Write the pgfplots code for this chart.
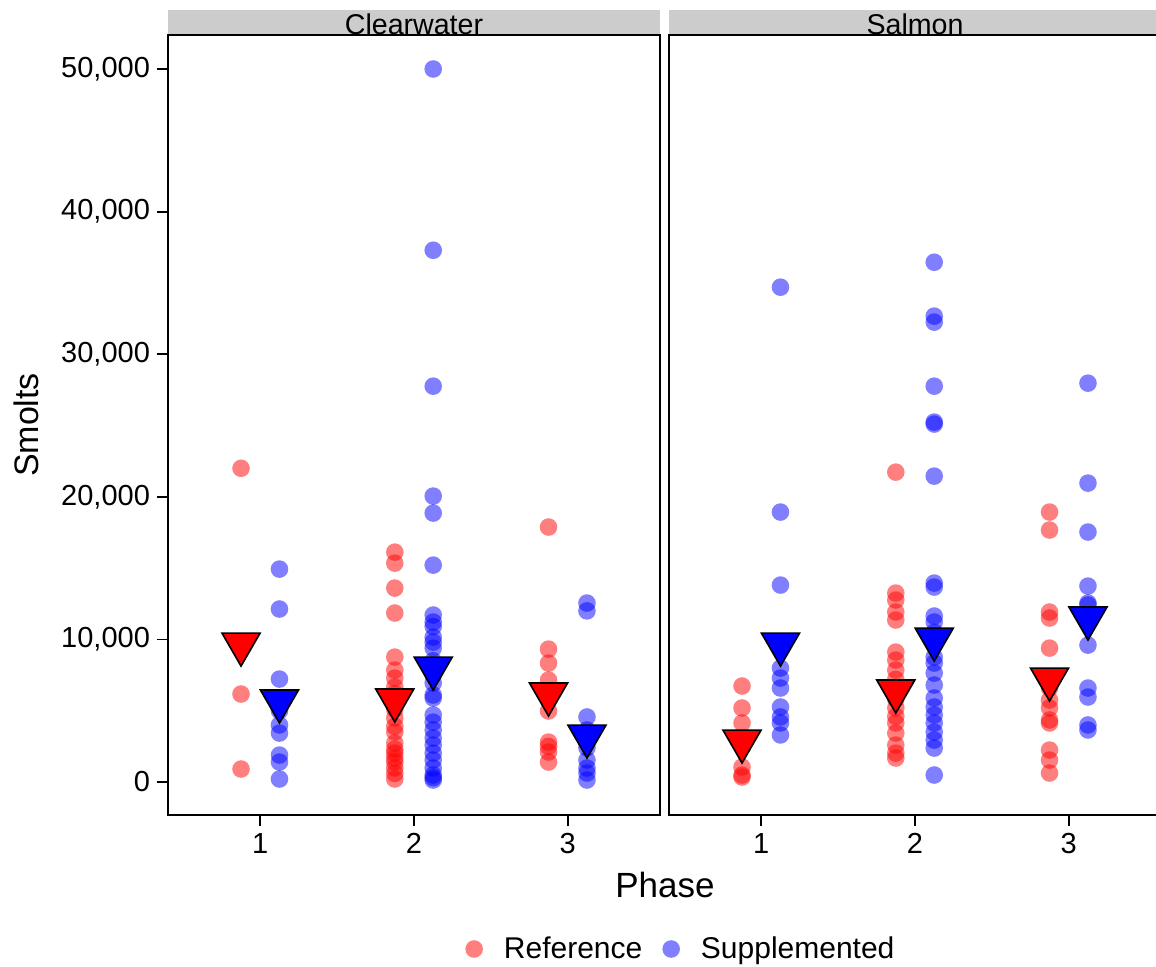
\documentclass[border=0pt]{standalone}
\usepackage{pgfplots}
\pgfplotsset{compat=1.18}
\usetikzlibrary{calc}
\usepackage{fontspec}
\setmainfont{Liberation Sans}
\definecolor{refc}{HTML}{FF0000}
\definecolor{supc}{HTML}{0000FF}
\definecolor{stripc}{HTML}{CCCCCC}
\pgfplotsset{
  panel/.style={scale only axis, width=246pt, height=390pt,
    xmin=0.4, xmax=3.6, ymin=-2314, ymax=52384,
    xtick={1,2,3}, tick align=outside, major tick length=5.5pt,
    tick pos=left,
    axis line style={line width=0.9pt},
    tick style={black, line width=0.9pt},
    ticklabel style={font=\fontsize{14.5}{17}\selectfont},
    /pgf/number format/assume math mode=true,
    anchor=north west},
  refdot/.style={only marks, mark=*, mark size=4.4pt, mark options={draw=refc, draw opacity=0, fill=refc, fill opacity=0.5}},
  supdot/.style={only marks, mark=*, mark size=4.4pt, mark options={draw=supc, draw opacity=0, fill=supc, fill opacity=0.5}},
  refmean/.style={only marks, mark=triangle*, mark size=11pt, mark options={rotate=180, fill=refc, draw=black, line width=0.8pt}},
  supmean/.style={only marks, mark=triangle*, mark size=11pt, mark options={rotate=180, fill=supc, draw=black, line width=0.8pt}},
}
\begin{document}
\begin{tikzpicture}
% ---------------- Clearwater ----------------
\begin{axis}[panel, at={(84pt,-17.5pt)},
  ytick={0,10000,20000,30000,40000,50000},
  scaled y ticks=false,
  yticklabel style={/pgf/number format/.cd, fixed, 1000 sep={,}},
  legend columns=2,
  legend style={draw=none, fill=none, at={(1.0445,-0.1718)}, anchor=center,
    font=\fontsize{15}{18}\selectfont,
    /tikz/every even column/.append style={column sep=8pt},
    /tikz/every odd column/.append style={column sep=8.5pt}},
  legend image code/.code={\draw[#1] plot coordinates {(4.4pt,0pt)};},
]
\addplot[refdot, forget plot] coordinates {
(0.875,22000) (0.875,6170) (0.875,910)
(1.875,16120) (1.875,15350) (1.875,13600) (1.875,11850) (1.875,8760) (1.875,7850)
(1.875,7290) (1.875,6660) (1.875,6200) (1.875,5100) (1.875,4490) (1.875,3900)
(1.875,3500) (1.875,2730) (1.875,2300) (1.875,2030) (1.875,1680) (1.875,1400)
(1.875,980) (1.875,600) (1.875,210)
(2.875,17880) (2.875,9320) (2.875,8340) (2.875,7150) (2.875,4980) (2.875,2800)
(2.875,2500) (2.875,2100) (2.875,1400)
};
\addplot[supdot, forget plot] coordinates {
(1.125,14930) (1.125,12130) (1.125,7220) (1.125,5000) (1.125,4000) (1.125,3430)
(1.125,1890) (1.125,1400) (1.125,210)
(2.125,50000) (2.125,37290) (2.125,27760) (2.125,20050) (2.125,18860) (2.125,15210)
(2.125,11710) (2.125,11220) (2.125,10900) (2.125,10160) (2.125,9810) (2.125,9390)
(2.125,8500) (2.125,7500) (2.125,6940) (2.125,6100) (2.125,5890) (2.125,4700)
(2.125,4200) (2.125,3650) (2.125,3080) (2.125,2590) (2.125,2030) (2.125,1540)
(2.125,980) (2.125,490) (2.125,300) (2.125,140)
(3.125,12550) (3.125,12000) (3.125,4560) (3.125,3650) (3.125,3000) (3.125,2400)
(3.125,1540) (3.125,980) (3.125,630) (3.125,140)
};
\addplot[refmean, forget plot] coordinates {(0.875,9670) (1.875,5750) (2.875,6170)};
\addplot[supmean, forget plot] coordinates {(1.125,5680) (2.125,7990) (3.125,3220)};
\addlegendimage{refdot}
\addlegendentry{Reference}
\addlegendimage{supdot}
\addlegendentry{Supplemented}
\coordinate (LTL) at (rel axis cs:0,1);
\coordinate (LTR) at (rel axis cs:1,1);
\end{axis}
% ---------------- Salmon ----------------
\begin{axis}[panel, at={(334.5pt,-17.5pt)}, ytick=\empty]
\addplot[refdot] coordinates {
(0.875,6730) (0.875,5190) (0.875,4140) (0.875,3000) (0.875,1050) (0.875,490) (0.875,350)
(1.875,21730) (1.875,13250) (1.875,12760) (1.875,11920) (1.875,11360) (1.875,9110)
(1.875,8550) (1.875,7850) (1.875,7200) (1.875,6500) (1.875,5800) (1.875,5200)
(1.875,4600) (1.875,4140) (1.875,3430) (1.875,2590) (1.875,2030) (1.875,1680)
(2.875,18930) (2.875,17670) (2.875,11920) (2.875,11500) (2.875,9390) (2.875,6590)
(2.875,5750) (2.875,5190) (2.875,4350) (2.875,4140) (2.875,2240) (2.875,1540) (2.875,630)
};
\addplot[supdot] coordinates {
(1.125,34700) (1.125,18930) (1.125,13810) (1.125,7990) (1.125,7290) (1.125,6590)
(1.125,5260) (1.125,4560) (1.125,4140) (1.125,3300)
(2.125,36450) (2.125,32670) (2.125,32250) (2.125,27760) (2.125,25240) (2.125,25100)
(2.125,21450) (2.125,13950) (2.125,13670) (2.125,11640) (2.125,11220) (2.125,10500)
(2.125,8760) (2.125,8340) (2.125,7640) (2.125,6800) (2.125,5890) (2.125,5260)
(2.125,4700) (2.125,4140) (2.125,3500) (2.125,2940) (2.125,2380) (2.125,490)
(3.125,27970) (3.125,20960) (3.125,17530) (3.125,13740) (3.125,12550) (3.125,12410)
(3.125,9600) (3.125,6590) (3.125,5960) (3.125,4000) (3.125,3650)
};
\addplot[refmean] coordinates {(0.875,2870) (1.875,6380) (2.875,7220)};
\addplot[supmean] coordinates {(1.125,9670) (2.125,10020) (3.125,11500)};
\coordinate (RTL) at (rel axis cs:0,1);
\coordinate (RTR) at (rel axis cs:1,1);
\end{axis}
% strips
\fill[stripc] (LTL) rectangle ([yshift=12.5pt]LTR);
\fill[stripc] (RTL) rectangle ([yshift=12.5pt]RTR);
\node[anchor=base, font=\fontsize{14.3}{16}\selectfont, inner sep=0pt] at ([yshift=0.4pt]$(LTL)!0.5!(LTR)$) {Clearwater};
\node[anchor=base, font=\fontsize{14.3}{16}\selectfont, inner sep=0pt] at ([yshift=0.4pt]$(RTL)!0.5!(RTR)$) {Salmon};
\draw[line width=0.9pt] (LTL) -- (LTR);
\draw[line width=0.9pt] (RTL) -- (RTR);
% axis titles
\node[rotate=90, font=\fontsize{17}{20}\selectfont] at (13pt,-212.5pt) {Smolts};
\node[font=\fontsize{17.5}{20}\selectfont] at (332.5pt,-442.5pt) {Phase};
\pgfresetboundingbox
\path[use as bounding box] (0pt,0pt) rectangle (578pt,-483pt);
\end{tikzpicture}
\end{document}
